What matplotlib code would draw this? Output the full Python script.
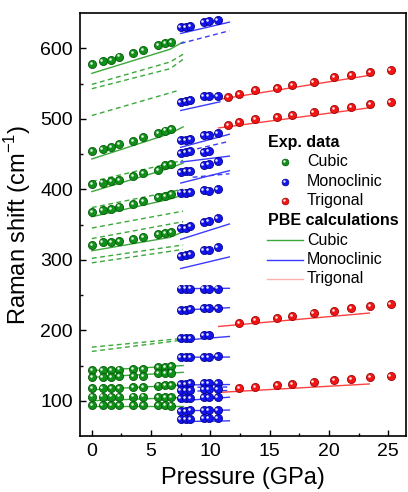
import matplotlib
matplotlib.use("Agg")
import matplotlib.pyplot as plt
import matplotlib.transforms as mtransforms

plt.rcParams['font.family'] = ['Liberation Sans', 'DejaVu Sans']
plt.rcParams['mathtext.fontset'] = 'custom'
plt.rcParams['mathtext.rm'] = 'Liberation Sans'

# ---------------- data ----------------
# Cubic experimental
P_cub = [0, 0.9, 1.6, 2.3, 3.5, 4.3, 5.6, 6.2, 6.7]
cub_exp = [
    [578.2, 581.5, 583.9, 588.2, 592.9, 597.6, 604.3, 607.1, 609.0],
    [453.7, 457.1, 460.0, 463.7, 468.9, 474.2, 479.9, 483.2, 485.6],
    [407.3, 409.5, 412.0, 413.4, 418.1, 422.9, 426.6, 433.8, 435.8],
    [367.4, 370.7, 372.5, 375.4, 379.6, 383.5, 388.7, 390.6, 393.4],
    [320.8, 324.6, 325.5, 326.5, 329.3, 331.8, 336.5, 337.9, 338.9],
    [143.5, 144.0, 144.0, 144.2, 145.0, 145.3, 148.0, 148.2, 148.8],
    [133.2, 134.0, 134.0, 134.5, 135.0, 135.5, 139.0, 139.2, 140.0],
    [117.5, 118.0, 118.0, 118.2, 119.0, 119.5, 121.5, 122.0, 122.5],
    [106.0, 106.0, 106.0, 106.0, 106.0, 106.0, 105.7, 105.7, 105.7],
    [94.0, 94.0, 93.8, 93.8, 93.8, 93.6, 93.4, 93.4, 93.2],
]

# Monoclinic experimental
P_mono = [7.48, 7.9, 8.32, 9.42, 9.84, 10.6]
mono_exp = [
    [629.5, 630.3, 631.8, 636.6, 638.0, 639.9],
    [524.1, 524.9, 525.9, 532.0, 532.6, 531.6],
    [469.4, 470.4, 471.8, 476.5, 477.5, 479.9],
    [451.9, 452.8, 454.7, 452.8, 453.7],
    [424.4, 425.3, 426.2, 434.8, 435.8, 439.5],
    [395.3, 395.3, 396.3, 399.1, 398.2, 400.6],
    [344.6, 344.6, 348.3, 354.0, 355.0, 358.8],
    [305.6, 306.6, 308.0, 313.7, 314.1, 317.5],
    [259.1, 259.1, 259.1, 259.1, 259.1, 259.1],
    [229.2, 229.2, 230.1, 231.1, 232.0, 231.5],
    [188.7, 188.7, 189.3, 193.0, 193.0],
    [161.7, 161.7, 162.2, 162.5, 162.5, 163.0],
    [124.0, 124.0, 124.5, 125.0, 125.0, 125.5],
    [115.5, 115.5, 115.7, 116.0, 116.0, 116.3],
    [104.0, 104.0, 104.3, 105.0, 105.0, 105.5],
    [86.0, 86.0, 86.2, 86.5, 86.5, 86.8],
    [74.0, 74.0, 74.3, 75.0, 75.0, 75.0],
]

# Trigonal experimental
P_trig = [11.5, 12.4, 13.8, 15.6, 16.9, 18.7, 20.4, 21.9, 23.5, 25.2]
trig_exp = [
    [530.6, 534.5, 540.2, 543.0, 548.3, 552.0, 558.7, 562.0, 565.8, 568.7],
    [490.9, 495.7, 500.0, 502.2, 505.1, 509.3, 514.1, 517.0, 520.7, 524.1],
    [None, 210.1, 214.0, 217.8, 220.1, 224.4, 227.8, 231.5, 233.9, 236.8],
    [None, 117.5, 119.9, 121.8, 123.8, 127.1, 128.9, 130.9, 133.8, 135.2],
]

# PBE calculations: (pressures, frequencies)
cub_calc_solid = [
    ([0, 6.6, 7.7], [564.4, 598.6, 609.0]),
    ([0, 6.6, 7.7], [442.9, 479.0, 488.5]),
    ([0, 6.6, 7.7], [396.7, 430.0, 437.2]),
    ([0, 6.6, 7.7], [361.0, 386.0, 392.0]),
    ([0, 6.6, 7.7], [312.7, 331.8, 339.7]),
    ([0, 7.7], [142.7, 149.9]),
    ([0, 7.7], [133.2, 140.3]),
    ([0, 7.7], [115.7, 122.4]),
    ([0, 7.7], [100.0, 104.7]),
    ([0, 7.7], [93.0, 93.0]),
]
cub_calc_dash = [
    ([0, 6.6, 7.7], [548.7, 580.5, 591.5]),
    ([0, 6.6, 7.7], [542.6, 571.0, 584.3]),
    ([0, 7.4], [504.6, 540.6]),
    ([0, 7.7], [411.0, 441.0]),
    ([0, 7.7], [374.0, 400.0]),
    ([0, 7.7], [345.0, 369.0]),
    ([0, 7.7], [330.0, 354.0]),
    ([0, 7.7], [302.0, 321.0]),
    ([0, 7.7], [295.6, 314.7]),
    ([0, 7.4], [176.0, 188.0]),
    ([0, 7.4], [170.0, 185.5]),
]
mono_calc_solid = [
    ([7.5, 11.6], [621.0, 637.0]),
    ([7.5, 10.8], [511.7, 524.0]),
    ([7.5, 11.6], [459.5, 478.0]),
    ([7.5, 11.6], [438.5, 447.0]),
    ([7.5, 11.6], [408.8, 426.3]),
    ([7.5, 11.6], [329.0, 350.7]),
    ([7.5, 11.6], [287.6, 304.0]),
    ([7.5, 11.6], [259.0, 259.5]),
    ([7.5, 11.6], [228.5, 232.0]),
    ([7.5, 11.6], [185.5, 191.2]),
    ([7.5, 11.6], [161.7, 162.0]),
    ([7.5, 11.6], [122.4, 123.0]),
    ([7.5, 11.6], [100.0, 105.0]),
    ([7.5, 11.6], [85.8, 86.8]),
    ([7.5, 11.6], [70.5, 71.5]),
]
mono_calc_dash = [
    ([7.5, 11.6], [606.8, 624.8]),
    ([7.5, 11.6], [452.0, 468.0]),
    ([8.5, 11.6], [417.0, 422.0]),
    ([7.5, 11.6], [119.0, 119.5]),
    ([7.5, 11.6], [113.5, 114.5]),
]
trig_calc_solid = [
    ([10.7, 23.4], [527.4, 561.5]),
    ([10.7, 23.4], [487.0, 515.5]),
    ([10.7, 23.4], [205.4, 224.4]),
    ([10.7, 23.4], [111.8, 123.8]),
]

legend_exp = ['Cubic', 'Monoclinic', 'Trigonal']
legend_calc = ['Cubic', 'Monoclinic', 'Trigonal']

# ---------------- style ----------------
c_green, e_green, l_green = '#11901a', '#055a08', '#3aa83a'
c_blue, e_blue, l_blue = '#1414f0', '#04048a', '#3a3aff'
c_red, e_red, l_red = '#f51414', '#9a0606', '#ff4040'

fig = plt.figure(figsize=(4.08, 4.92), dpi=100)
ax = fig.add_axes([80/408, 56/492, 326/408, 423/492])

hl = mtransforms.offset_copy(ax.transData, fig=fig, x=-1.1, y=1.1, units='dots')


def balls(x, y, c, e):
    xs = [a for a, b in zip(x, y) if b is not None]
    ys = [b for b in y if b is not None]
    ax.scatter(xs, ys, s=34, c=c, edgecolors=e, linewidths=0.6, zorder=5)
    ax.scatter(xs, ys, s=3.5, c='white', linewidths=0, zorder=6, alpha=0.9,
               transform=hl)


dash = (0, (3.5, 2.5))
for px, py in cub_calc_solid:
    ax.plot(px, py, color=l_green, lw=1.0, zorder=2)
for px, py in cub_calc_dash:
    ax.plot(px, py, color=l_green, lw=1.0, ls=dash, zorder=2)
for px, py in mono_calc_solid:
    ax.plot(px, py, color=l_blue, lw=1.0, zorder=2)
for px, py in mono_calc_dash:
    ax.plot(px, py, color=l_blue, lw=1.0, ls=dash, zorder=2)
for px, py in trig_calc_solid:
    ax.plot(px, py, color=l_red, lw=1.0, zorder=2)

for ys in cub_exp:
    balls(P_cub[:len(ys)], ys, c_green, e_green)
for ys in mono_exp:
    balls(P_mono[:len(ys)], ys, c_blue, e_blue)
for ys in trig_exp:
    balls(P_trig[:len(ys)], ys, c_red, e_red)

ax.set_xlim(-1, 26.5)
ax.set_ylim(50, 650)
ax.set_xticks([0, 5, 10, 15, 20, 25])
ax.set_xticks([2.5, 7.5, 12.5, 17.5, 22.5], minor=True)
ax.set_yticks([100, 200, 300, 400, 500, 600])
ax.set_yticks([150, 250, 350, 450, 550], minor=True)
ax.tick_params(which='both', direction='in', labelsize=14, pad=5, width=1.0)
ax.tick_params(which='major', length=4.5)
ax.tick_params(which='minor', length=2.5)
for s in ax.spines.values():
    s.set_linewidth(1.2)
ax.set_xlabel('Pressure (GPa)', fontsize=17, labelpad=5)
ax.set_ylabel('Raman shift (cm$^{\\mathregular{-1}}$)', fontsize=17, labelpad=5)

# ---------------- legend ----------------
ta = ax.transAxes
def fx(px):
    return (px - 80) / 326
def fy(py):
    return (436 - py) / 423

ax.text(fx(268), fy(142), 'Exp. data', transform=ta, fontsize=11.5,
        fontweight='bold', va='center', ha='left')
leg_cols = [(c_green, e_green), (c_blue, e_blue), (c_red, e_red)]
leg_rows = [161.7, 181.7, 201.0]
hl_ax = mtransforms.offset_copy(ta, fig=fig, x=-1.0, y=1.0, units='dots')
for (c, e), lab, ry in zip(leg_cols, legend_exp, leg_rows):
    ax.scatter([fx(285)], [fy(ry)], s=24, c=c, edgecolors=e, linewidths=0.5,
               transform=ta, zorder=7)
    ax.scatter([fx(285)], [fy(ry)], s=3, c='white', linewidths=0,
               transform=hl_ax, zorder=8, alpha=0.9)
    ax.text(fx(307), fy(ry), lab, transform=ta, fontsize=11.5, va='center', ha='left')

ax.text(fx(268), fy(220.7), 'PBE calculations', transform=ta, fontsize=11.5,
        fontweight='bold', va='center', ha='left')
calc_cols = [l_green, l_blue, '#ffb0b0']
calc_rows = [240.0, 260.0, 279.0]
for c, lab, ry in zip(calc_cols, legend_calc, calc_rows):
    ax.plot([fx(267), fx(303)], [fy(ry), fy(ry)], color=c, lw=1.0, transform=ta)
    ax.text(fx(307), fy(ry), lab, transform=ta, fontsize=11.5, va='center', ha='left')

fig.savefig('out.png', dpi=100)
